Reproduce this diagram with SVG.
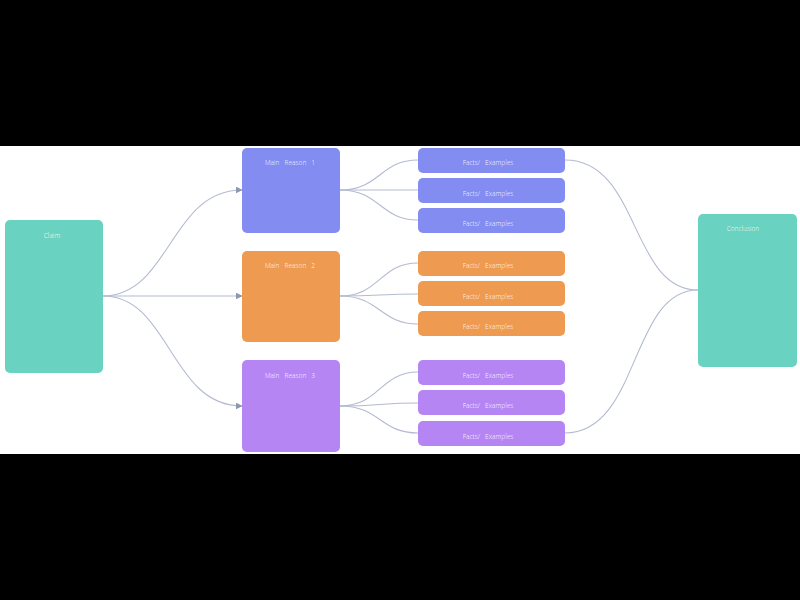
<svg xmlns="http://www.w3.org/2000/svg" width="800" height="600" viewBox="0 0 800 600">
  <defs>
    <style>
      .lbl { font-family: "Noto Sans", "DejaVu Sans", sans-serif; font-size: 6.5px; fill: #ffffff; fill-opacity: 0.85; text-anchor: middle; font-weight: 300; }
      .link { fill: none; stroke: #b4bbd0; stroke-width: 1.1; }
      .teal { fill: #6ad2c0; }
      .blue { fill: #828cf1; }
      .orange { fill: #ee9a50; }
      .violet { fill: #b685f4; }
    </style>
    <marker id="arrow" viewBox="0 0 10 10" refX="9" refY="5" markerWidth="7" markerHeight="7" markerUnits="userSpaceOnUse" orient="auto">
      <path d="M0,0 L10,5 L0,10 Z" fill="#8e97b2"/>
    </marker>
  </defs>

  <rect x="0" y="0" width="800" height="600" fill="#000000"/>
  <rect x="0" y="146" width="800" height="308" fill="#ffffff"/>

  <g id="connectors">
    <!-- claim to main reasons -->
    <path class="link" d="M103,296 C170,296 170,190 242,190" marker-end="url(#arrow)"/>
    <path class="link" d="M103,296 L242,296" marker-end="url(#arrow)"/>
    <path class="link" d="M103,296 C170,296 170,406 242,406" marker-end="url(#arrow)"/>
    <!-- reason 1 to facts -->
    <path class="link" d="M340,190 C380,190 380,160 418,160"/>
    <path class="link" d="M340,190 L418,190"/>
    <path class="link" d="M340,190 C380,190 380,220 418,220"/>
    <!-- reason 2 to facts -->
    <path class="link" d="M340,296 C380,296 380,263 418,263"/>
    <path class="link" d="M340,296 C380,296 380,294 418,294"/>
    <path class="link" d="M340,296 C380,296 380,324 418,324"/>
    <!-- reason 3 to facts -->
    <path class="link" d="M340,406 C380,406 380,372 418,372"/>
    <path class="link" d="M340,406 C380,406 380,403 418,403"/>
    <path class="link" d="M340,406 C380,406 380,433 418,433"/>
    <!-- facts to conclusion -->
    <path class="link" d="M565,160 C640,160 630,290 698,290"/>
    <path class="link" d="M565,433 C640,433 630,290 698,290"/>
  </g>

  <g id="claim">
    <rect class="teal" x="5" y="220" width="98" height="153" rx="5"/>
    <text class="lbl" x="52" y="238">Claim</text>
  </g>

  <g id="reason1">
    <rect class="blue" x="242" y="148" width="98" height="85" rx="5"/>
    <text class="lbl" x="290" y="165" xml:space="preserve">Main   Reason   1</text>
  </g>
  <g id="reason2">
    <rect class="orange" x="242" y="251" width="98" height="91" rx="5"/>
    <text class="lbl" x="290" y="268" xml:space="preserve">Main   Reason   2</text>
  </g>
  <g id="reason3">
    <rect class="violet" x="242" y="360" width="98" height="92" rx="5"/>
    <text class="lbl" x="290" y="378" xml:space="preserve">Main   Reason   3</text>
  </g>

  <g id="fact1a"><rect class="blue" x="418" y="148" width="147" height="25" rx="5"/><text class="lbl" x="488" y="165" xml:space="preserve">Facts/   Examples</text></g>
  <g id="fact1b"><rect class="blue" x="418" y="178" width="147" height="25" rx="5"/><text class="lbl" x="488" y="196" xml:space="preserve">Facts/   Examples</text></g>
  <g id="fact1c"><rect class="blue" x="418" y="208" width="147" height="25" rx="5"/><text class="lbl" x="488" y="226" xml:space="preserve">Facts/   Examples</text></g>

  <g id="fact2a"><rect class="orange" x="418" y="251" width="147" height="25" rx="5"/><text class="lbl" x="488" y="268" xml:space="preserve">Facts/   Examples</text></g>
  <g id="fact2b"><rect class="orange" x="418" y="281" width="147" height="25" rx="5"/><text class="lbl" x="488" y="299" xml:space="preserve">Facts/   Examples</text></g>
  <g id="fact2c"><rect class="orange" x="418" y="311" width="147" height="25" rx="5"/><text class="lbl" x="488" y="329" xml:space="preserve">Facts/   Examples</text></g>

  <g id="fact3a"><rect class="violet" x="418" y="360" width="147" height="25" rx="5"/><text class="lbl" x="488" y="378" xml:space="preserve">Facts/   Examples</text></g>
  <g id="fact3b"><rect class="violet" x="418" y="390" width="147" height="25" rx="5"/><text class="lbl" x="488" y="408" xml:space="preserve">Facts/   Examples</text></g>
  <g id="fact3c"><rect class="violet" x="418" y="421" width="147" height="25" rx="5"/><text class="lbl" x="488" y="439" xml:space="preserve">Facts/   Examples</text></g>

  <g id="conclusion">
    <rect class="teal" x="698" y="214" width="99" height="153" rx="5"/>
    <text class="lbl" x="743" y="231">Conclusion</text>
  </g>
</svg>
